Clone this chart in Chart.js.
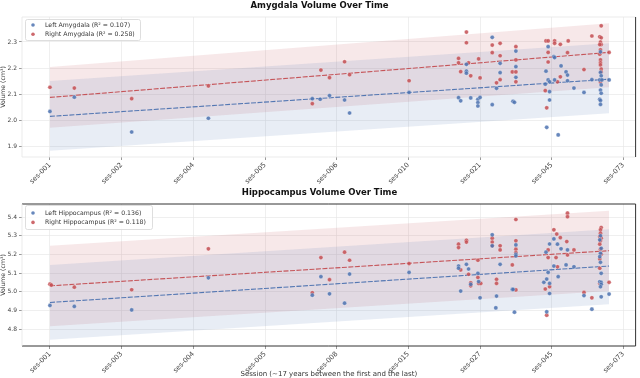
<!DOCTYPE html>
<html>
<head>
<meta charset="utf-8">
<script src="https://cdn.jsdelivr.net/npm/chart.js@4.4.1/dist/chart.umd.min.js"></script>
<style>
  html, body { margin: 0; padding: 0; background: #fff; }
  #wrap { width: 640px; height: 378px; }
  canvas { display: block; }
</style>
</head>
<body>
<div id="wrap">
  <canvas id="amyChart" width="640" height="188"></canvas>
  <canvas id="hipChart" width="640" height="190"></canvas>
</div>
<script>
// x axis: sessions placed on a continuous position scale, ticks at integer slots
const tickPos = [0, 1, 2, 3, 4, 5, 6, 7, 8];
const amyTickLabels = ['ses-001', 'ses-002', 'ses-004', 'ses-005', 'ses-006', 'ses-010', 'ses-021', 'ses-045', 'ses-073'];
const hipTickLabels = ['ses-001', 'ses-003', 'ses-004', 'ses-005', 'ses-008', 'ses-015', 'ses-027', 'ses-045', 'ses-073'];
const amyYTicks = [1.9, 2.0, 2.1, 2.2, 2.3];
const hipYTicks = [4.8, 4.9, 5.0, 5.1, 5.2, 5.3, 5.4];

// scatter values [position, volume]
const amyLeft = [
  [0, 2.033], [0.34, 2.088], [1.14, 1.954], [2.21, 2.007], [3.66, 2.082], [3.77, 2.080], [3.90, 2.094], [4.11, 2.077], [4.18, 2.027], [5.01, 2.106],
  [5.70, 2.086], [5.73, 2.074], [5.81, 2.214], [5.81, 2.188], [5.81, 2.180], [5.87, 2.085], [5.97, 2.080], [5.97, 2.067], [5.97, 2.054], [6.00, 2.087],
  [6.17, 2.318], [6.17, 2.059], [6.23, 2.122], [6.28, 2.218], [6.28, 2.182], [6.50, 2.265], [6.50, 2.205], [6.50, 2.164], [6.46, 2.072], [6.48, 2.068],
  [6.95, 2.282], [7.03, 2.244], [7.04, 2.240], [6.92, 2.188], [7.13, 2.208], [7.20, 2.185], [7.22, 2.173], [6.95, 2.154], [6.97, 2.147], [7.04, 2.154],
  [7.22, 2.151], [6.91, 2.138], [6.97, 2.109], [6.97, 2.077], [6.93, 1.972], [7.09, 1.943], [7.31, 2.123], [7.45, 2.106], [7.56, 2.155],
  [7.68, 2.262], [7.68, 2.183], [7.69, 2.170], [7.67, 2.154], [7.70, 2.154], [7.80, 2.154], [7.69, 2.135], [7.68, 2.115], [7.69, 2.103], [7.67, 2.080], [7.68, 2.075], [7.68, 2.060]
];
const amyRight = [
  [0, 2.126], [0.34, 2.123], [1.14, 2.082], [2.21, 2.131], [3.66, 2.063], [3.78, 2.192], [3.90, 2.163], [4.11, 2.224], [4.18, 2.174], [5.01, 2.151],
  [5.81, 2.338], [5.81, 2.297], [5.70, 2.237], [5.70, 2.220], [5.73, 2.186], [5.84, 2.220], [5.87, 2.170], [5.98, 2.235], [6.00, 2.162], [6.17, 2.288],
  [6.17, 2.259], [6.23, 2.143], [6.28, 2.295], [6.28, 2.247], [6.28, 2.155], [6.50, 2.282], [6.50, 2.231], [6.45, 2.185], [6.50, 2.185], [6.50, 2.147],
  [6.92, 2.304], [6.95, 2.304], [7.04, 2.304], [7.04, 2.295], [7.12, 2.291], [7.23, 2.304], [6.95, 2.260], [7.22, 2.259], [6.95, 2.223], [7.12, 2.166],
  [7.08, 2.147], [6.91, 2.113], [6.93, 2.047], [7.45, 2.194], [7.56, 2.323],
  [7.69, 2.362], [7.67, 2.320], [7.69, 2.316], [7.68, 2.300], [7.69, 2.290], [7.67, 2.290], [7.68, 2.270], [7.80, 2.260], [7.67, 2.253], [7.68, 2.231],
  [7.68, 2.220], [7.68, 2.212], [7.69, 2.196], [7.69, 2.185], [7.68, 2.146]
];
const hipLeft = [
  [0, 4.927], [0.34, 4.922], [1.14, 4.903], [2.21, 5.075], [3.66, 4.982], [3.78, 5.081], [3.90, 4.989], [4.11, 4.939], [4.18, 5.095], [5.01, 5.104],
  [5.70, 5.138], [5.70, 5.126], [5.73, 5.004], [5.81, 5.147], [5.84, 5.122], [5.87, 5.040], [5.97, 5.099], [5.98, 5.055], [6.00, 4.968], [6.17, 5.305],
  [6.17, 5.246], [6.28, 5.147], [6.23, 4.977], [6.22, 4.914], [6.50, 5.251], [6.50, 5.201], [6.50, 5.192], [6.45, 5.013], [6.46, 5.013], [6.48, 4.891],
  [7.03, 5.283], [6.97, 5.256], [7.08, 5.255], [6.92, 5.212], [7.13, 5.230], [7.22, 5.224], [7.03, 5.138], [7.20, 5.144], [7.31, 5.134], [6.95, 5.104],
  [7.09, 5.081], [6.89, 5.051], [6.97, 5.045], [6.93, 5.068], [6.97, 4.991], [6.93, 4.893], [7.45, 4.980], [7.56, 4.907],
  [7.68, 5.300], [7.67, 5.278], [7.69, 5.233], [7.68, 5.206], [7.67, 5.188], [7.68, 5.158], [7.69, 5.099], [7.67, 5.054], [7.69, 5.050], [7.69, 5.040],
  [7.68, 5.027], [7.69, 4.973], [7.80, 4.988]
];
const hipRight = [
  [0, 5.041], [0.02, 5.036], [0.34, 5.025], [1.14, 5.011], [2.21, 5.230], [3.66, 4.995], [3.78, 5.183], [3.90, 5.065], [4.11, 5.212], [4.18, 5.169], [5.01, 5.151],
  [5.70, 5.255], [5.70, 5.237], [5.81, 5.276], [5.81, 5.266], [5.73, 5.117], [5.84, 5.094], [5.87, 5.048], [5.87, 5.032], [5.97, 5.169], [5.97, 5.077],
  [5.98, 5.045], [6.01, 5.045], [6.17, 5.287], [6.17, 5.266], [6.17, 5.246], [6.28, 5.246], [6.28, 5.224], [6.23, 5.067], [6.23, 5.045], [6.50, 5.387],
  [6.50, 5.273], [6.50, 5.228], [6.50, 5.210], [6.45, 5.144], [6.50, 5.010],
  [7.22, 5.421], [7.22, 5.402], [7.03, 5.332], [7.07, 5.309], [7.12, 5.290], [7.21, 5.269], [6.95, 5.224], [7.31, 5.224], [6.95, 5.183], [7.06, 5.183],
  [7.22, 5.197], [7.08, 5.134], [6.97, 5.027], [6.91, 5.015], [6.93, 4.875], [7.45, 4.997], [7.56, 4.968],
  [7.69, 5.344], [7.68, 5.332], [7.68, 5.314], [7.67, 5.295], [7.69, 5.287], [7.68, 5.273], [7.67, 5.255], [7.68, 5.228], [7.69, 5.201], [7.67, 5.176],
  [7.67, 5.126], [7.67, 5.045], [7.80, 5.051]
];

// regression fits and prediction bands (start / end of the fitted range)
const fitX = [0, 7.8];
const amyLeftFit = [2.014, 2.157];
const amyLeftHi = [2.150, 2.295];
const amyLeftLo = [1.882, 2.026];
const amyRightFit = [2.087, 2.260];
const amyRightHi = [2.204, 2.372];
const amyRightLo = [1.970, 2.126];
const hipLeftFit = [4.943, 5.138];
const hipLeftHi = [5.144, 5.335];
const hipLeftLo = [4.744, 4.934];
const hipRightFit = [5.032, 5.220];
const hipRightHi = [5.246, 5.434];
const hipRightLo = [4.816, 5.005];

const BLUE = '76,114,176';
const RED = '196,78,82';
const FONT = 'DejaVu Sans';

const toXY = arr => arr.map(p => ({ x: p[0], y: p[1] }));
const fitXY = ys => fitX.map((x, i) => ({ x: x, y: ys[i] }));

// draws the four sides of the plot frame with their own colours
const framePlugin = {
  id: 'frame',
  afterDraw(chart, args, opts) {
    const { ctx, chartArea: a } = chart;
    const sides = [
      [opts.top, a.left, a.top, a.right, a.top],
      [opts.bottom, a.left, a.bottom, a.right, a.bottom],
      [opts.left, a.left, a.top, a.left, a.bottom],
      [opts.right, a.right, a.top, a.right, a.bottom]
    ];
    ctx.save();
    sides.forEach(s => {
      ctx.strokeStyle = s[0].color;
      ctx.lineWidth = s[0].width;
      ctx.beginPath();
      ctx.moveTo(s[1], s[2]);
      ctx.lineTo(s[3], s[4]);
      ctx.stroke();
    });
    ctx.restore();
  }
};

// legend box inside the plot area, like the matplotlib one
const boxLegend = {
  id: 'boxLegend',
  afterDatasetsDraw(chart, args, opts) {
    const { ctx, chartArea } = chart;
    const x0 = chartArea.left + opts.dx;
    const y0 = chartArea.top + opts.dy;
    const items = chart.data.datasets.filter(d => d.inLegend);
    ctx.save();
    ctx.fillStyle = 'rgba(255,255,255,0.9)';
    ctx.strokeStyle = '#d6d6d6';
    ctx.lineWidth = 0.8;
    ctx.beginPath();
    ctx.roundRect(x0 + 0.5, y0 + 0.5, opts.w, opts.h, 2);
    ctx.fill();
    ctx.stroke();
    ctx.font = '6.2px "' + FONT + '"';
    ctx.textBaseline = 'middle';
    items.forEach((d, i) => {
      const y = y0 + opts.row1 + i * opts.gap;
      ctx.fillStyle = d.backgroundColor;
      ctx.beginPath();
      ctx.arc(x0 + 8, y, 1.8, 0, Math.PI * 2);
      ctx.fill();
      ctx.fillStyle = '#333';
      ctx.fillText(d.label, x0 + 20, y);
    });
    ctx.restore();
  }
};

function buildDatasets(s) {
  const band = (hi, lo, rgb) => [
    { type: 'line', data: fitXY(hi), fill: '+1', backgroundColor: 'rgba(' + rgb + ',0.13)', borderWidth: 0, pointRadius: 0, order: 5 },
    { type: 'line', data: fitXY(lo), fill: false, borderWidth: 0, pointRadius: 0, order: 5 }
  ];
  const fit = (ys, rgb) => ({
    type: 'line', data: fitXY(ys), borderColor: 'rgba(' + rgb + ',0.95)', borderWidth: 1.1,
    borderDash: [5, 1.5], pointRadius: 0, fill: false, order: 2
  });
  const pts = (arr, rgb, label) => ({
    type: 'scatter', label: label, inLegend: true, data: toXY(arr),
    backgroundColor: 'rgba(' + rgb + ',0.85)', borderColor: 'rgba(255,255,255,0.7)', borderWidth: 0.4,
    pointRadius: 2.1, order: 1
  });
  return [
    pts(s.left, BLUE, s.leftLabel),
    pts(s.right, RED, s.rightLabel),
    ...band(s.leftHi, s.leftLo, BLUE),
    ...band(s.rightHi, s.rightLo, RED),
    fit(s.leftFit, BLUE),
    fit(s.rightFit, RED)
  ];
}

function makeChart(id, s) {
  const grid = { color: '#e4e4e4', lineWidth: 0.6, tickLength: 3, tickColor: '#555', tickWidth: 0.6 };
  return new Chart(document.getElementById(id), {
    type: 'scatter',
    data: { datasets: buildDatasets(s) },
    options: {
      responsive: false,
      animation: false,
      layout: { padding: { top: 0, right: 1, left: 0, bottom: 0 } },
      plugins: {
        legend: { display: false },
        tooltip: { enabled: false },
        title: {
          display: true, text: s.title, color: '#111',
          font: { family: FONT, size: 8.5, weight: 'bold' },
          padding: { top: s.titleTop, bottom: s.titleBottom }
        },
        frame: s.frame,
        boxLegend: s.legendBox
      },
      scales: {
        x: {
          type: 'linear', min: -0.39, max: 8.17,
          afterBuildTicks: sc => { sc.ticks = tickPos.map(v => ({ value: v })); },
          afterFit: sc => { sc.height = s.xHeight; },
          grid: grid, border: { display: false },
          ticks: {
            autoSkip: false, minRotation: 45, maxRotation: 45, padding: 1, color: '#444',
            font: { family: FONT, size: 6.8 },
            callback: v => s.tickLabels[tickPos.indexOf(v)]
          },
          title: {
            display: s.xTitle !== '', text: s.xTitle, color: '#333',
            font: { family: FONT, size: 7 }, padding: { top: 0, bottom: 0 }
          }
        },
        y: {
          min: s.yMin, max: s.yMax,
          afterBuildTicks: sc => { sc.ticks = s.yTicks.map(v => ({ value: v })); },
          afterFit: sc => { sc.width = 22; },
          grid: grid, border: { display: false },
          ticks: { padding: 2, color: '#444', font: { family: FONT, size: 6 }, callback: v => v.toFixed(1) },
          title: {
            display: true, text: 'Volume (cm³)', color: '#333',
            font: { family: FONT, size: 6.2 }, padding: { top: 0, bottom: 0 }
          }
        }
      }
    },
    plugins: [framePlugin, boxLegend]
  });
}

const light = { color: '#e6e6e6', width: 0.8 };
const dark = { color: '#333', width: 1 };

makeChart('amyChart', {
  title: 'Amygdala Volume Over Time',
  left: amyLeft, right: amyRight,
  leftLabel: 'Left Amygdala (R² = 0.107)', rightLabel: 'Right Amygdala (R² = 0.258)',
  leftFit: amyLeftFit, leftHi: amyLeftHi, leftLo: amyLeftLo,
  rightFit: amyRightFit, rightHi: amyRightHi, rightLo: amyRightLo,
  tickLabels: amyTickLabels, yTicks: amyYTicks, yMin: 1.858, yMax: 2.396,
  titleTop: 1, titleBottom: 5.8, xHeight: 31, xTitle: '',
  frame: { top: light, bottom: light, left: light, right: dark },
  legendBox: { dx: 3, dy: 2, w: 115, h: 21, row1: 6, gap: 9.3 }
});

makeChart('hipChart', {
  title: 'Hippocampus Volume Over Time',
  left: hipLeft, right: hipRight,
  leftLabel: 'Left Hippocampus (R² = 0.136)', rightLabel: 'Right Hippocampus (R² = 0.118)',
  leftFit: hipLeftFit, leftHi: hipLeftHi, leftLo: hipLeftLo,
  rightFit: hipRightFit, rightHi: hipRightHi, rightLo: hipRightLo,
  tickLabels: hipTickLabels, yTicks: hipYTicks, yMin: 4.71, yMax: 5.47,
  titleTop: 0, titleBottom: 5.8, xHeight: 32, xTitle: 'Session (~17 years between the first and the last)',
  frame: { top: dark, bottom: dark, left: light, right: dark },
  legendBox: { dx: 3, dy: 1, w: 127, h: 24, row1: 8, gap: 9.4 }
});
</script>
</body>
</html>
